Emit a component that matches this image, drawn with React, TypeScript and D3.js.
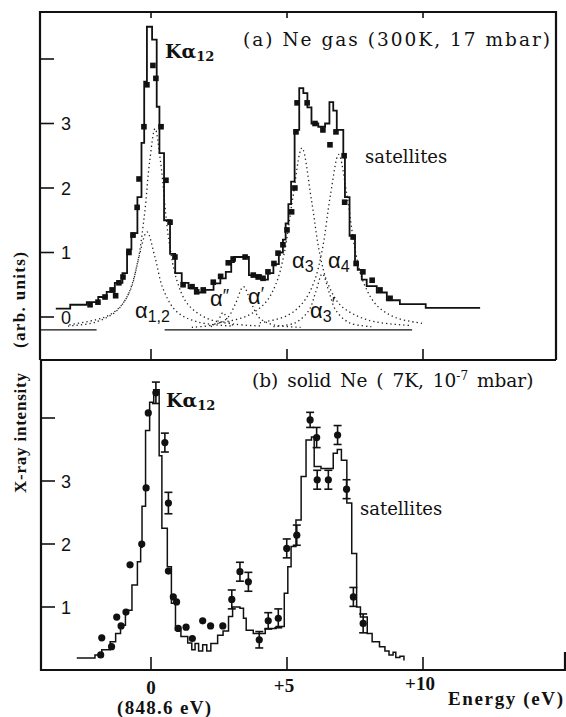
import React, { useEffect, useRef } from 'react';
import * as d3 from 'd3';

// energy relative to Ka12 line (848.6 eV), intensity in arb. units
// histograms: [left edge of bin, value]; last pair closes the last bin
const gasHist: [number, number][] = [
  [-3.5, 0.13], [-2.97, 0.19], [-2.36, 0.23], [-1.94, 0.31], [-1.63, 0.39], [-1.33, 0.53], [-1.05, 0.68],
  [-0.88, 1.05], [-0.72, 1.3], [-0.5, 1.86], [-0.35, 2.7], [-0.25, 3.65], [-0.15, 4.5], [0.04, 4.3],
  [0.21, 3.26], [0.31, 2.54], [0.48, 1.5], [0.7, 0.98], [0.89, 0.68], [1.13, 0.53], [1.38, 0.45],
  [1.7, 0.38], [2.0, 0.42], [2.3, 0.52], [2.55, 0.6], [2.75, 0.7], [2.95, 0.85], [3.05, 0.93],
  [3.6, 0.65], [4.05, 0.58], [4.3, 0.68], [4.5, 0.82], [4.7, 1.0], [4.85, 1.2], [4.95, 1.45],
  [5.05, 1.75], [5.15, 2.1], [5.28, 2.9], [5.45, 3.55], [5.6, 3.47], [5.75, 3.25], [5.9, 3.0],
  [6.15, 2.95], [6.4, 3.0], [6.56, 3.33], [6.7, 3.2], [6.83, 2.9], [7.07, 2.5], [7.13, 1.86],
  [7.3, 1.26], [7.5, 0.85], [7.6, 0.73], [7.75, 0.58], [7.93, 0.48], [8.3, 0.38], [8.67, 0.26],
  [9.15, 0.2], [10.1, 0.14], [12.1, 0.14]
];

const gasPoints: [number, number][] = [
  [-2.24, 0.19], [-1.95, 0.23], [-1.69, 0.31], [-1.43, 0.42], [-1.3, 0.33], [-1.18, 0.53], [-1.03, 0.62],
  [-0.81, 1.0], [-0.66, 1.27], [-0.51, 1.7], [-0.44, 2.14], [-0.26, 2.95], [-0.15, 3.6], [0.07, 3.9],
  [0.18, 3.7], [0.37, 2.95], [0.55, 2.12], [0.7, 1.47], [0.88, 0.93], [1.18, 0.5], [1.51, 0.47],
  [1.68, 0.39], [1.92, 0.42], [2.29, 0.54], [2.56, 0.63], [2.84, 0.84], [3.02, 0.9], [3.46, 0.93],
  [3.76, 0.65], [3.94, 0.62], [4.12, 0.6], [4.3, 0.7], [4.52, 0.83], [4.67, 0.99], [4.85, 1.12],
  [5.0, 1.35], [5.17, 1.63], [5.29, 2.0], [5.33, 2.87], [5.37, 3.32], [5.74, 3.32], [6.03, 3.0],
  [6.32, 2.9], [6.58, 2.67], [6.8, 2.87], [7.1, 2.5], [7.12, 1.78], [7.43, 1.24], [7.54, 0.83],
  [7.79, 0.7], [8.13, 0.57], [8.42, 0.42], [8.79, 0.29]
];

// fitted line components (gas)
const compA12a: [number, number][] = [[-3, -0.12], [-2, -0.04], [-1.45, 0.05], [-0.95, 0.26], [-0.55, 0.73], [-0.25, 1.55], [-0.05, 2.41], [0.15, 2.92], [0.35, 2.41], [0.65, 1.21], [0.95, 0.57], [1.35, 0.2], [2.05, -0.02], [3.05, -0.11], [4.05, -0.14]];
const compA12b: [number, number][] = [[-3.05, -0.14], [-2.05, -0.08], [-1.25, 0.1], [-0.75, 0.43], [-0.45, 0.92], [-0.15, 1.32], [0.15, 0.92], [0.45, 0.43], [0.95, 0.08], [1.75, -0.08], [2.95, -0.14]];
const compA2: [number, number][] = [[2.2, -0.15], [2.45, -0.07], [2.65, 0.07], [2.85, -0.07], [3.1, -0.15]];
const compA1: [number, number][] = [[1.5, -0.16], [2.3, -0.12], [2.8, -0.02], [3.1, 0.2], [3.4, 0.47], [3.7, 0.2], [4.0, -0.02], [4.5, -0.12], [5.5, -0.16]];
const compA3: [number, number][] = [[2.5, -0.09], [3.5, 0.01], [4.2, 0.22], [4.6, 0.52], [4.9, 0.99], [5.2, 1.81], [5.55, 2.62], [5.9, 1.81], [6.2, 0.99], [6.5, 0.52], [7.0, 0.17], [8.0, -0.05], [9.5, -0.13]];
const compA4: [number, number][] = [[4.0, -0.09], [5.0, 0.02], [5.6, 0.23], [6.0, 0.55], [6.3, 1.05], [6.6, 1.9], [6.9, 2.52], [7.2, 1.9], [7.5, 1.05], [7.8, 0.55], [8.3, 0.18], [9.0, -0.01], [10.0, -0.1]];
const compA3p: [number, number][] = [[4.5, -0.15], [5.3, -0.09], [5.8, 0.1], [6.05, 0.38], [6.3, 0.67], [6.55, 0.38], [6.8, 0.1], [7.3, -0.09], [8.1, -0.15]];
const gasBaselines: [number, number][] = [[-4.1, -2.0], [0.5, 9.6]];
const baseLevel = -0.2;

const solidHist: [number, number][] = [
  [-2.73, 0.19], [-2.06, 0.24], [-1.81, 0.32], [-1.5, 0.45], [-1.3, 0.58], [-1.12, 0.71], [-0.94, 0.95],
  [-0.7, 1.35], [-0.5, 1.72], [-0.38, 1.95], [-0.33, 2.6], [-0.2, 3.8], [-0.05, 4.25], [0.1, 4.45],
  [0.3, 3.4], [0.4, 2.25], [0.6, 1.64], [0.75, 1.06], [0.9, 0.63], [1.1, 0.53], [1.35, 0.43],
  [1.5, 0.32], [1.62, 0.42], [1.75, 0.3], [1.9, 0.4], [2.05, 0.3], [2.2, 0.42], [2.45, 0.55],
  [2.65, 0.62], [2.85, 0.85], [3.0, 1.0], [3.27, 0.98], [3.4, 0.82], [3.5, 0.63], [3.76, 0.58],
  [4.2, 0.66], [4.6, 0.69], [4.9, 1.22], [5.03, 1.64], [5.15, 1.96], [5.33, 2.38], [5.52, 3.07],
  [5.7, 3.65], [5.9, 3.7], [6.0, 3.23], [6.25, 3.2], [6.7, 3.44], [6.85, 3.5], [7.0, 3.33],
  [7.2, 2.65], [7.38, 1.85], [7.56, 1.0], [7.7, 0.84], [7.95, 0.58], [8.13, 0.45], [8.4, 0.37],
  [8.6, 0.3], [8.75, 0.24], [8.9, 0.28], [9.0, 0.2], [9.15, 0.22], [9.3, 0.15]
];

// [energy, intensity, error half-height (0 = no bar)]
const solidPoints: [number, number, number][] = [
  [-1.85, 0.24, 0], [-1.81, 0.51, 0], [-1.45, 0.37, 0], [-1.26, 0.84, 0], [-1.1, 0.7, 0], [-0.92, 0.92, 0],
  [-0.77, 1.67, 0], [-0.34, 2.0, 0], [-0.18, 2.89, 0], [-0.1, 4.08, 0], [0.18, 4.4, 0.17], [0.51, 3.61, 0.15],
  [0.64, 2.65, 0.17], [0.64, 1.57, 0], [0.82, 1.16, 0], [0.94, 1.08, 0], [1.0, 0.66, 0], [1.29, 0.68, 0],
  [1.52, 0.5, 0], [1.9, 0.78, 0], [2.19, 0.7, 0], [2.64, 0.7, 0], [2.97, 1.12, 0.15], [3.27, 1.56, 0.15],
  [3.58, 1.4, 0.15], [3.98, 0.48, 0.13], [4.31, 0.78, 0.13], [4.68, 0.82, 0.15], [4.99, 1.93, 0.15],
  [5.36, 2.14, 0.16], [5.85, 3.97, 0.12], [6.09, 3.69, 0.16], [6.11, 3.02, 0.15], [6.52, 3.02, 0.15],
  [6.86, 3.73, 0.15], [7.19, 2.87, 0.15], [7.44, 1.16, 0.15], [7.8, 0.74, 0.15]
];

const xTicks = [0, 5, 10];
const xTickLabels = ['0', '+5', '+10'];
const yTicks = [0, 1, 2, 3, 4];
const gasTickLabels = ['0', '1', '2', '3', ''];
const solidTickLabels = ['', '1', '2', '3', ''];

const SERIF = '"Liberation Serif", serif';
const WIDE_SERIF = '"DejaVu Serif", serif';
const SANS = '"Liberation Sans", Arial, sans-serif';

export default function App() {
  const ref = useRef<SVGSVGElement>(null);

  useEffect(() => {
    const svg = d3.select(ref.current);
    svg.selectAll('*').remove();

    const x = d3.scaleLinear().domain([0, 10]).range([151, 423]);
    const ya = d3.scaleLinear().domain([0, 4]).range([317, 59]);
    const yb = d3.scaleLinear().domain([0, 4]).range([670, 418]);

    svg.append('rect').attr('width', 566).attr('height', 717).attr('fill', '#fff');

    // frames
    const frame = svg.append('g').attr('fill', 'none').attr('stroke', '#111').attr('stroke-width', 2.2);
    frame.append('path').attr('d', 'M40,360 L40,12 L556,12 L556,360');
    frame.append('line').attr('x1', 40).attr('x2', 556).attr('y1', 360).attr('y2', 360);
    frame.append('path').attr('d', 'M41,360 L41,670 L565,670 L565,652');

    // ticks
    const tk = svg.append('g').attr('stroke', '#111').attr('stroke-width', 1.6);
    xTicks.forEach(t => {
      tk.append('line').attr('x1', x(t)).attr('x2', x(t)).attr('y1', 12).attr('y2', 18);
      tk.append('line').attr('x1', x(t)).attr('x2', x(t)).attr('y1', 360).attr('y2', 349);
      tk.append('line').attr('x1', x(t)).attr('x2', x(t)).attr('y1', 670).attr('y2', 657);
    });
    yTicks.forEach(t => {
      tk.append('line').attr('x1', 40).attr('x2', 54).attr('y1', ya(t)).attr('y2', ya(t));
      if (t > 0) tk.append('line').attr('x1', 41).attr('x2', 55).attr('y1', yb(t)).attr('y2', yb(t));
    });

    const num = svg.append('g').attr('font-family', SANS).attr('font-size', 18).attr('fill', '#111');
    yTicks.forEach((t, i) => {
      if (gasTickLabels[i]) num.append('text').attr('x', 61).attr('y', ya(t) + 6.5).text(gasTickLabels[i]);
      if (solidTickLabels[i]) num.append('text').attr('x', 61).attr('y', yb(t) + 6.5).text(solidTickLabels[i]);
    });

    // component curves (dotted)
    const comp = d3.line<[number, number]>()
      .x(d => x(d[0])).y(d => ya(d[1]))
      .curve(d3.curveCatmullRom.alpha(0.5));
    [compA12a, compA12b, compA2, compA1, compA3, compA4, compA3p].forEach(c => {
      svg.append('path').attr('d', comp(c)).attr('fill', 'none').attr('stroke', '#222')
        .attr('stroke-width', 1.3).attr('stroke-dasharray', '1.3,3');
    });
    gasBaselines.forEach(b => {
      svg.append('line').attr('x1', x(b[0])).attr('x2', x(b[1]))
        .attr('y1', ya(baseLevel)).attr('y2', ya(baseLevel)).attr('stroke', '#111').attr('stroke-width', 1.3);
    });

    // histograms
    const stepA = d3.line<[number, number]>().x(d => x(d[0])).y(d => ya(d[1])).curve(d3.curveStepAfter);
    const stepB = d3.line<[number, number]>().x(d => x(d[0])).y(d => yb(d[1])).curve(d3.curveStepAfter);
    svg.append('path').attr('d', stepA(gasHist)).attr('fill', 'none').attr('stroke', '#111').attr('stroke-width', 1.8);
    svg.append('path').attr('d', stepB(solidHist)).attr('fill', 'none').attr('stroke', '#111').attr('stroke-width', 1.5);

    // gas data points (squares)
    svg.append('g').selectAll('rect').data(gasPoints).join('rect')
      .attr('x', d => x(d[0]) - 2.8).attr('y', d => ya(d[1]) - 2.8)
      .attr('width', 5.6).attr('height', 5.6).attr('fill', '#111');

    // solid data points with error bars
    const eb = svg.append('g').attr('stroke', '#111').attr('stroke-width', 1.6);
    solidPoints.filter(d => d[2] > 0).forEach(d => {
      const cx = x(d[0]);
      eb.append('line').attr('x1', cx).attr('x2', cx).attr('y1', yb(d[1] - d[2])).attr('y2', yb(d[1] + d[2]));
      eb.append('line').attr('x1', cx - 4).attr('x2', cx + 4).attr('y1', yb(d[1] - d[2])).attr('y2', yb(d[1] - d[2]));
      eb.append('line').attr('x1', cx - 4).attr('x2', cx + 4).attr('y1', yb(d[1] + d[2])).attr('y2', yb(d[1] + d[2]));
    });
    svg.append('g').selectAll('circle').data(solidPoints).join('circle')
      .attr('cx', d => x(d[0])).attr('cy', d => yb(d[1])).attr('r', 3.6).attr('fill', '#111');

    // texts
    const txt = (t: string, px: number, py: number, size: number, opts: any = {}) => {
      const el = svg.append('text').attr('x', px).attr('y', py)
        .attr('font-family', opts.family || SERIF).attr('font-size', size)
        .attr('font-weight', opts.weight || 'normal').attr('fill', '#111')
        .attr('text-anchor', opts.anchor || 'start');
      if (opts.len) el.attr('textLength', opts.len).attr('lengthAdjust', 'spacing');
      if (opts.rotate) el.attr('transform', `rotate(-90 ${px} ${py})`);
      if (opts.ws) el.attr('word-spacing', opts.ws);
      el.text(t);
      return el;
    };

    txt('(a) Ne gas (300K, 17 mbar)', 243, 46, 18.5, { family: WIDE_SERIF, len: 307 });
    const sb = txt('(b) solid Ne ( 7K, 10', 252, 387, 18.5, { family: WIDE_SERIF, ws: 3 });
    sb.append('tspan').attr('font-size', 12).attr('dy', -7).text('-7');
    sb.append('tspan').attr('dy', 7).text(' mbar)');

    const ka = (px: number, py: number) => {
      const el = txt('Kα', px, py, 19, { family: WIDE_SERIF, weight: 'bold' });
      el.append('tspan').attr('font-size', 13).attr('dy', 3).text('12');
    };
    ka(165, 58);
    ka(166, 407);

    txt('satellites', 365, 163, 18, { family: WIDE_SERIF });
    txt('satellites', 360, 515, 18, { family: WIDE_SERIF });

    // alpha labels: subscript first, prime raised after it
    const alpha = (px: number, py: number, sub: string, prime: string) => {
      const el = txt('α', px, py, 22, { family: SANS });
      if (sub) el.append('tspan').attr('font-size', 16).attr('dy', 4).text(sub);
      if (prime) el.append('tspan').attr('font-size', 18).attr('dy', sub ? -12 : -4).text(prime);
    };
    alpha(135, 318, '1,2', '');
    alpha(210, 306, '', '″');
    alpha(248, 304, '', '′');
    alpha(292, 268, '3', '');
    alpha(328, 268, '4', '');
    alpha(310, 318, '3', '′');

    txt('(arb. units)', 25, 300, 17, { weight: 'bold', anchor: 'middle', rotate: true, len: 96 });
    txt('X-ray intensity', 26, 433, 17, { weight: 'bold', anchor: 'middle', rotate: true, len: 120 });

    xTicks.forEach((t, i) => {
      txt(xTickLabels[i], x(t) + (i === 0 ? 0 : -3), i === 0 ? 694 : i === 1 ? 692 : 690, 19,
        { weight: 'bold', anchor: 'middle' });
    });
    txt('(848.6 eV)', 164, 714, 19, { weight: 'bold', anchor: 'middle', len: 94 });
    txt('Energy  (eV)', 448, 705, 19, { weight: 'bold', len: 115 });
  }, []);

  return (
    <svg ref={ref} width={566} height={717}
      style={{ position: 'absolute', left: 0, top: 0, display: 'block' }} />
  );
}
